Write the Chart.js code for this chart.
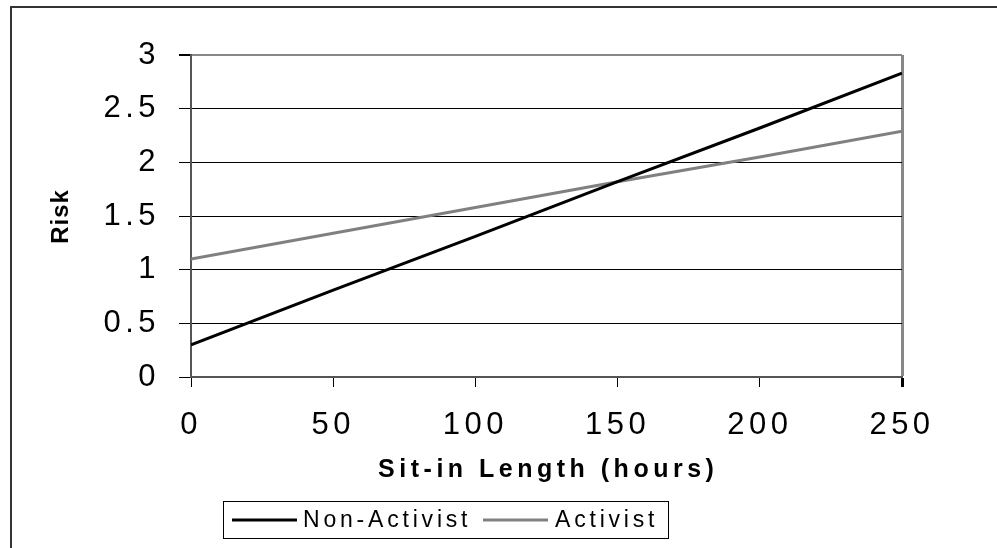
<!DOCTYPE html>
<html>
<head>
<meta charset="utf-8">
<script src="https://cdn.jsdelivr.net/npm/chart.js@4.4.1/dist/chart.umd.min.js"></script>
<style>
  html, body { margin: 0; padding: 0; background: #fff; }
  #wrap { position: relative; width: 997px; height: 548px; }
</style>
</head>
<body>
<div id="wrap"><canvas id="risk"></canvas></div>
<script>
// horas del sit-in y riesgo
const hours = [0, 50, 100, 150, 200, 250];
const nonActivist = [0.3, 0.81, 1.31, 1.82, 2.32, 2.83];
const activist = [1.1, 1.34, 1.58, 1.82, 2.05, 2.29];
const seriesNames = ["Non-Activist", "Activist"];
const seriesColors = ["#000000", "#808080"];
const yTitle = "Risk";
const xTitle = "Sit-in Length (hours)";

const FONT = "'Liberation Sans', Arial, sans-serif";

// espaciado de letras (Chart.js no lo trae)
const spacing = {
  id: "spacing",
  beforeDraw(chart) {
    chart.ctx.letterSpacing = "4.5px";
  },
  afterDraw(chart) {
    const ctx = chart.ctx;
    ctx.save();

    // marco exterior
    ctx.strokeStyle = "#333";
    ctx.lineWidth = 2;
    ctx.strokeRect(11, 7, 1100, 1100);

    // titulo eje y
    ctx.fillStyle = "#000";
    ctx.font = "bold 24px " + FONT;
    ctx.letterSpacing = "1px";
    ctx.textAlign = "center";
    ctx.textBaseline = "middle";
    ctx.save();
    ctx.translate(61, 217);
    ctx.rotate(-Math.PI / 2);
    ctx.fillText(yTitle, 0.5, 0);
    ctx.restore();

    // titulo eje x
    ctx.font = "bold 25px " + FONT;
    ctx.letterSpacing = "4.5px";
    ctx.fillText(xTitle, 546 + 2.25, 470);

    // leyenda
    ctx.strokeStyle = "#000";
    ctx.lineWidth = 1;
    ctx.strokeRect(223.5, 501.5, 445, 37);
    ctx.font = "23px " + FONT;
    ctx.letterSpacing = "3.8px";
    ctx.textAlign = "left";
    const items = [
      { x0: 232, x1: 297, tx: 303 },
      { x0: 483, x1: 548, tx: 555 },
    ];
    chart.data.datasets.forEach((ds, i) => {
      const it = items[i];
      ctx.strokeStyle = ds.borderColor;
      ctx.lineWidth = 3;
      ctx.beginPath();
      ctx.moveTo(it.x0, 520);
      ctx.lineTo(it.x1, 520);
      ctx.stroke();
      ctx.fillStyle = "#000";
      ctx.fillText(ds.label, it.tx, 521);
    });
    ctx.restore();
  },
};

new Chart(document.getElementById("risk").getContext("2d"), {
  type: "line",
  data: {
    datasets: [
      {
        label: seriesNames[0],
        data: hours.map((h, i) => ({ x: h, y: nonActivist[i] })),
        borderColor: seriesColors[0],
        borderWidth: 3,
        pointRadius: 0,
        tension: 0,
      },
      {
        label: seriesNames[1],
        data: hours.map((h, i) => ({ x: h, y: activist[i] })),
        borderColor: seriesColors[1],
        borderWidth: 3,
        pointRadius: 0,
        tension: 0,
      },
    ],
  },
  options: {
    responsive: true,
    maintainAspectRatio: false,
    animation: false,
    layout: { padding: { left: 0, top: 55, right: 95, bottom: 0 } },
    plugins: {
      legend: { display: false },
      tooltip: { enabled: false },
      title: { display: false },
    },
    scales: {
      x: {
        type: "linear",
        min: 0,
        max: 250,
        ticks: {
          stepSize: 50,
          color: "#000",
          font: { family: FONT, size: 31 },
          padding: 20,
          maxRotation: 0,
          callback: (v) => String(v),
        },
        grid: {
          color: (c) => (c.tick && c.tick.value === 250 ? "#888" : "rgba(0,0,0,0)"),
          lineWidth: (c) => (c.tick && c.tick.value === 250 ? 3 : 1),
          tickColor: "#000",
          tickLength: 10,
        },
        border: { color: "#555", width: 2 },
        afterFit: (s) => { s.height = 548 - 377; },
      },
      y: {
        min: 0,
        max: 3,
        ticks: {
          stepSize: 0.5,
          color: "#000",
          font: { family: FONT, size: 31 },
          padding: 19,
          callback: (v) => String(v),
        },
        grid: {
          color: (c) => (c.tick && c.tick.value === 3 ? "#888" : "#000"),
          lineWidth: (c) => (c.tick && c.tick.value === 3 ? 2 : 1),
          tickColor: "#000",
          tickLength: 12,
        },
        border: { color: "#555", width: 2 },
        afterFit: (s) => { s.width = 191; },
      },
    },
  },
  plugins: [spacing],
});
</script>
</body>
</html>
